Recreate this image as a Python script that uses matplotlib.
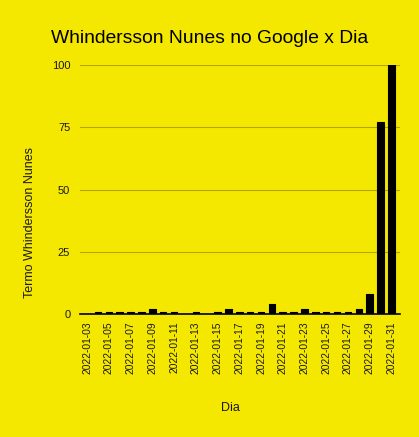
import matplotlib
matplotlib.use("Agg")
from matplotlib import pyplot as plt
import numpy as np

# data
dias = ['2022-01-%02d' % d for d in range(3, 32)]
valores = [0, 1, 1, 1, 1, 1, 2, 1, 1, 0, 1, 0, 1, 2, 1, 1, 1, 4, 1, 1, 2,
           1, 1, 1, 1, 2, 8, 77, 100]
yticks = [0, 25, 50, 75, 100]

amarelo = '#f5e800'
plt.rcParams['font.family'] = ['Liberation Sans', 'DejaVu Sans']

fig = plt.figure(figsize=(4.19, 4.37), dpi=100, facecolor=amarelo)
ax = fig.add_axes([0.191, 0.281, 0.764, 0.570], facecolor=amarelo)

x = np.arange(len(dias))
ax.bar(x, valores, width=0.6, color='black', edgecolor='black',
       linewidth=0.8, joinstyle='round', zorder=3)

# formats plot
ax.set_xlim(-0.65, len(dias) - 1 + 0.8)
ax.set_ylim(0, 100)
ax.set_yticks(yticks)
ax.set_xticks(x[::2])
ax.set_xticklabels(dias[::2], rotation=90)
ax.tick_params(axis='both', length=0, labelsize=8, colors='#1a1a1a')
ax.tick_params(axis='x', pad=5, labelsize=7.4)
ax.tick_params(axis='y', pad=7)
ax.grid(axis='y', color='#b3a600', linewidth=0.8, zorder=0)
for s in ['top', 'right', 'left']:
    ax.spines[s].set_visible(False)
ax.spines['bottom'].set_color('black')
ax.spines['bottom'].set_linewidth(1.2)
ax.spines['bottom'].set_zorder(4)

fig.text(0.500, 0.913, 'Whindersson Nunes no Google x Dia', fontsize=13.9,
         ha='center', va='center', color='#000000')
fig.text(0.072, 0.49, 'Termo Whindersson Nunes', rotation=90, fontsize=9,
         ha='center', va='center', color='#1a1a1a')
fig.text(0.549, 0.066, 'Dia', fontsize=9, ha='center', va='center',
         color='#1a1a1a')

fig.savefig('out.png', dpi=100, facecolor=amarelo)
